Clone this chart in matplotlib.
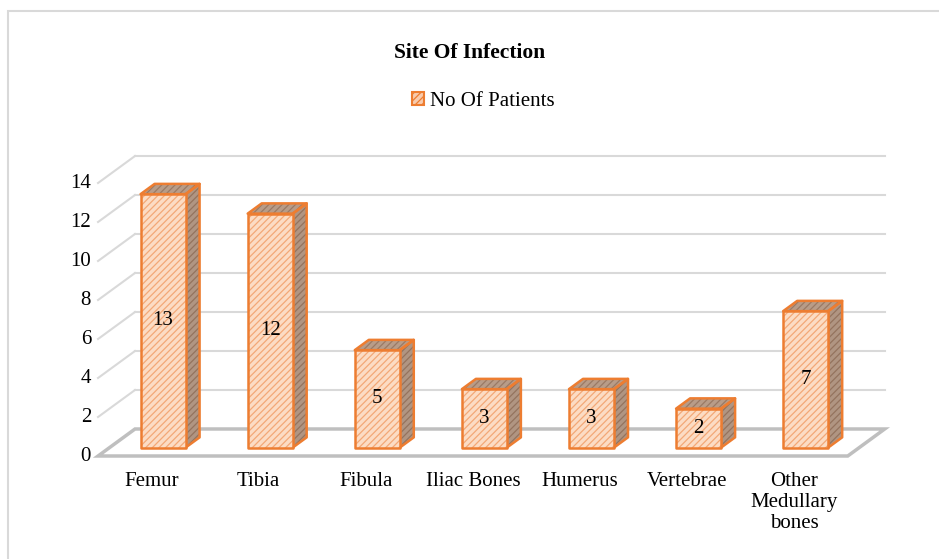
import matplotlib
matplotlib.use("Agg")
import matplotlib.pyplot as plt
from matplotlib.patches import Polygon, Rectangle, Patch

plt.rcParams['font.family'] = ['Liberation Serif', 'DejaVu Serif']
plt.rcParams['hatch.linewidth'] = 0.9

# data
categories = ["Femur", "Tibia", "Fibula", "Iliac Bones", "Humerus", "Vertebrae",
              "Other\nMedullary\nbones"]
patients = [13, 12, 5, 3, 3, 2, 7]
y_ticks = [0, 2, 4, 6, 8, 10, 12, 14]

# pseudo-3d geometry (data units)
DX, DY = 0.345, 1.385      # shift for full floor depth
D0, D1 = 0.31, 0.69        # bar depth range
BW = 0.42                  # bar width
ORANGE = "#ED7D31"
FRONT_FILL, FRONT_HATCH = "#FCDCC4", "#F3A877"
SIDE_FILL, SIDE_HATCH = "#B09582", "#94735E"
TOP_FILL, TOP_HATCH = "#B89C88", "#9A7A65"


def proj(x, y, d):
    return (x + d * DX, y + d * DY)


def face(ax, pts, fill, hatch_col, z):
    ax.add_patch(Polygon(pts, closed=True, facecolor=fill, edgecolor=hatch_col,
                         hatch="/////", linewidth=0, zorder=z))
    ax.add_patch(Polygon(pts, closed=True, facecolor="none", edgecolor=ORANGE,
                         linewidth=1.8, joinstyle="round", zorder=z + 0.1))


fig = plt.figure(figsize=(9.39, 5.59), dpi=100)
ax = fig.add_axes([0, 0, 1, 1])
ax.set_xlim(-1.4155, 7.352)
ax.set_ylim(-5.282, 23.385)
ax.axis("off")

# chart border
fig.patches.append(Rectangle((8 / 939, -0.1), 1.2, 1 - 11 / 559 + 0.1,
                             transform=fig.transFigure, fill=False,
                             edgecolor="#D9D9D9", linewidth=1.5))

n = len(categories)
x_left, x_right = -0.5, n - 0.5

# back wall gridlines and side wall diagonals
for v in y_ticks:
    a = proj(x_left, v, 1)
    b = proj(x_right, v, 1)
    if v > 0:
        ax.plot([a[0], b[0]], [a[1], b[1]], color="#D9D9D9", lw=1.5, zorder=1)
        c = proj(x_left, v, 0)
        ax.plot([c[0], a[0]], [c[1], a[1]], color="#D9D9D9", lw=1.5, zorder=1)
    ax.text(x_left - 0.065, v, str(v), ha="right", va="center", fontsize=15)

# floor
floor = [proj(x_left, 0, 0), proj(x_right, 0, 0), proj(x_right, 0, 1), proj(x_left, 0, 1)]
ax.add_patch(Polygon(floor, closed=True, facecolor="none", edgecolor="#BFBFBF",
                     linewidth=2.5, zorder=2))

# bars
for i, v in enumerate(patients):
    l, r = i - BW / 2, i + BW / 2
    top = [proj(l, v, D0), proj(r, v, D0), proj(r, v, D1), proj(l, v, D1)]
    side = [proj(r, 0, D0), proj(r, 0, D1), proj(r, v, D1), proj(r, v, D0)]
    front = [proj(l, 0, D0), proj(r, 0, D0), proj(r, v, D0), proj(l, v, D0)]
    face(ax, side, SIDE_FILL, SIDE_HATCH, 3)
    face(ax, top, TOP_FILL, TOP_HATCH, 3)
    face(ax, front, FRONT_FILL, FRONT_HATCH, 4)
    cx, cy = proj(i, v / 2, D0)
    ax.text(cx, cy, str(v), ha="center", va="center", fontsize=15, zorder=6)

# category labels
for i, lab in enumerate(categories):
    ax.text(i, -0.82, lab, ha="center", va="top", fontsize=15, linespacing=1.15)

fig.text(470 / 939, 1 - 53 / 559, "Site Of Infection", ha="center", va="center",
         fontsize=15.5, fontweight="bold")

handle = Patch(facecolor="#F8CBAD", edgecolor=ORANGE, hatch="/////", linewidth=1.5)
fig.legend(handles=[handle], labels=["No Of Patients"], loc="center",
           bbox_to_anchor=(483 / 939, 1 - 101 / 559), frameon=False, fontsize=15,
           handlelength=0.6, handleheight=0.6, handletextpad=0.25)

fig.savefig("out.png", dpi=100)
